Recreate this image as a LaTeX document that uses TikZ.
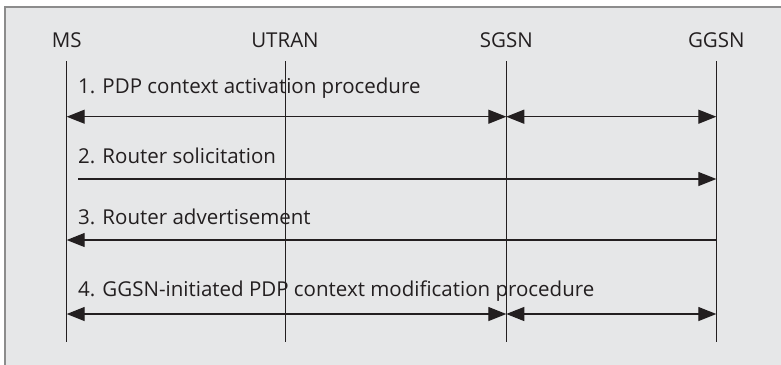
\documentclass[tikz,border=0pt]{standalone}
\usepackage{fontspec}
\setmainfont{Open Sans}
\usetikzlibrary{arrows.meta}
\definecolor{panel}{HTML}{E6E7E8}
\definecolor{rim}{HTML}{8C8C8C}
\definecolor{ink}{HTML}{231F20}
\tikzset{
  head/.style={anchor=base, inner sep=0pt, font=\fontsize{20.5}{22}\selectfont, text=ink},
  msglabel/.style={anchor=base west, inner sep=0pt, font=\fontsize{20.5}{22}\selectfont, text=ink},
  lifeline/.style={draw=ink, line width=1pt},
  msg/.style={draw=ink, line width=1.3pt, -{Triangle[length=18pt,width=14pt]}},
  bimsg/.style={draw=ink, line width=1.3pt, {Triangle[length=18pt,width=14pt]}-{Triangle[length=18pt,width=14pt]}}
}
\begin{document}
\begin{tikzpicture}[x=1pt,y=-1pt]
\useasboundingbox (0,0) rectangle (781,364);
\fill[white] (0,0) rectangle (781,364);
% panel (open to the right and bottom)
\fill[panel] (5,7) rectangle (790,372);
\draw[rim, line width=2pt] (5,372) -- (5,7) -- (790,7);

% entity headers
\node[head] (ms) at (66.7,47) {MS};
\node[head] (utran) at (285,47) {UTRAN};
\node[head] (sgsn) at (506.3,47) {SGSN};
\node[head] (ggsn) at (716.3,47) {GGSN};

% lifelines
\foreach \n/\x in {ms/66.7, utran/285, sgsn/506.3, ggsn/716.3} {
  \coordinate (\n-top) at (\x,61);
  \coordinate (\n-bot) at (\x,342);
  \draw[lifeline] (\n-top) -- (\n-bot);
}

% message rows
\coordinate (ms-1) at (66.7,116.7);   \coordinate (sgsn-1) at (506.3,116.7); \coordinate (ggsn-1) at (716.3,116.7);
\coordinate (ms-2) at (78,179);       \coordinate (ggsn-2) at (716.3,179);
\coordinate (ms-3) at (66.7,240);     \coordinate (ggsn-3) at (716.3,240);
\coordinate (ms-4) at (66.7,314);     \coordinate (sgsn-4) at (506.3,314);   \coordinate (ggsn-4) at (716.3,314);

\node[msglabel] (l1) at (78,93) {1. PDP context activation procedure};
\node[msglabel] (l2) at (78,163) {2. Router solicitation};
\node[msglabel] (l3) at (78,224) {3. Router advertisement};
\node[msglabel] (l4) at (78,296.7) {4. GGSN-initiated PDP context modification procedure};

\draw[bimsg] (ms-1) -- (sgsn-1);
\draw[bimsg] (sgsn-1) -- (ggsn-1);
\draw[msg] (ms-2) -- (ggsn-2);
\draw[msg] (ggsn-3) -- (ms-3);
\draw[bimsg] (ms-4) -- (sgsn-4);
\draw[bimsg] (sgsn-4) -- (ggsn-4);
\end{tikzpicture}
\end{document}
